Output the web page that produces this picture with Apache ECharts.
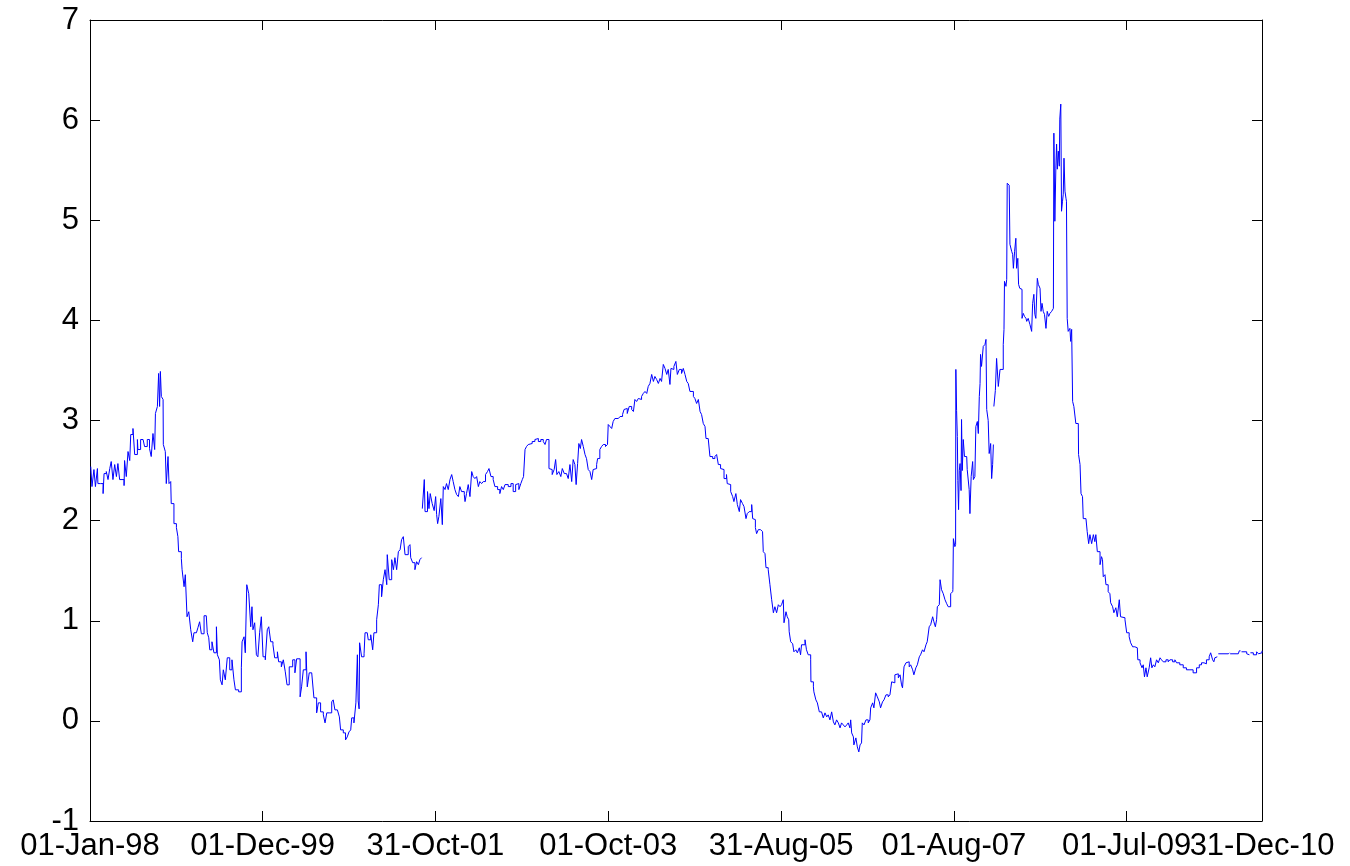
<!DOCTYPE html>
<html>
<head>
<meta charset="utf-8">
<script src="https://cdn.jsdelivr.net/npm/echarts@6/dist/echarts.min.js"></script>
<style>html,body{margin:0;padding:0;background:#fff}#c{width:1350px;height:866px}</style>
</head>
<body>
<div id="c"></div>
<script>
// x: days since 01-Jan-1998, null value = gap in data
var tickDays = [0, 699, 1399, 2099, 2799, 3499, 4199, 4747];
var tickLabels = ['01-Jan-98','01-Dec-99','31-Oct-01','01-Oct-03','31-Aug-05','01-Aug-07','01-Jul-09','31-Dec-10'];
var yTicks = [-1, 0, 1, 2, 3, 4, 5, 6, 7];

var days = [
3,8,16,22,30,32,43,53,57,66,73,80,86,93,100,107,113,120,127,138,140,147,154,161,165,174,181,192,194,205,215,221,232,241,248,255,262,265,273,278,282,285,289,296,297,305,309,316,320,327,329,336,340,345,350,356,359,370,373,381,386,393,400,408,416,421,431,437,444,451,462,471,475,481,485,494,502,512,516,524,528,535,540,548,556,566,575,583,589,602,613,616,624,629,635,643,651,656,660,667,674,680,687,694,701,710,718,724,732,741,748,759,764,775,783,791,798,
807,821,830,837,851,857,864,875,880,888,898,905,907,918,925,934,945,952,959,969,979,985,992,1002,1010,1015,1026,1035,1042,1049,1056,1060,1069,1077,1083,1086,1090,1092,1100,1110,1114,1123,1127,1137,1145,1150,1161,1168,1172,1181,1188,1195,1202,1204,1212,1222,1229,1235,1242,1249,1256,1262,1269,1276,1283,1289,1296,1299,1307,1316,1323,1330,1336,1343,1344,
1346,1354,1357,1367,1373,1378,1386,1394,1400,1404,1408,1413,1421,1427,1431,1438,1444,1451,1458,1465,1471,1478,1485,1492,1498,1505,1516,1519,1525,1532,1539,1546,1552,1559,1566,1573,1579,1586,1593,1602,1610,1616,1624,1633,1640,1651,1660,1667,1674,1681,1694,1705,1714,1724,1732,1737,1745,1751,1756,1762,1768,1775,1782,1791,1802,1809,1816,1826,1836,1843,1849,1856,1859,1867,1872,1880,1886,1891,1899,1907,1913,1921,1930,1937,1944,1951,1957,1964,1969,1975,1980,1986,1991,1998,2005,2011,2018,2025,2032,2038,2045,2052,2056,2065,2072,2079,2088,2096,2099,2106,2113,2119,
2126,2140,2147,2157,2163,2171,2176,2184,2194,2201,2207,2214,2221,2228,2234,2241,2248,2255,2261,2268,2275,2282,2288,2295,2302,2309,2315,2322,2329,2336,2342,2349,2353,2360,2365,2373,2379,2387,2396,2403,2410,2417,2423,2430,2437,2444,2450,2457,2464,2471,2477,2484,2491,2495,2504,2511,2522,2531,2538,2545,2554,2562,2568,2578,2581,2589,2595,2603,2608,2616,2622,2630,2635,2643,2649,2657,2662,2670,2680,2684,2689,2695,2700,2707,2716,2724,2727,2734,2738,2747,2754,2761,2768,2774,2781,2788,2795,2801,2808,2811,2819,2824,2830,2832,2838,2846,2851,
2859,2865,2873,2878,2882,2889,2896,2902,2909,2919,2920,2930,2932,2940,2946,2954,2963,2970,2977,2984,2990,2997,3004,3011,3017,3024,3031,3038,3044,3051,3058,3065,3071,3078,3081,3085,3092,3094,3102,3108,3114,3119,3125,3128,3135,3143,3152,3159,3162,3170,3175,3182,3189,3197,3202,3210,3216,3224,3233,3240,3247,3254,3260,3267,3274,3281,3287,3291,3297,3305,3310,3318,3324,3332,3337,3345,3351,3359,3364,3372,3378,3386,3391,3399,3405,3413,3418,3424,3429,3432,3440,3443,3449,3456,3463,3470,3476,3483,3486,3494,
3495,3497,3503,3506,3507,3510,3513,3515,3518,3521,3524,3528,3530,3533,3537,3542,3551,3553,3561,3564,3569,3575,3578,3584,3588,3594,3598,3602,3605,3607,3611,3618,3625,3629,3632,3638,3642,3648,3652,3656,3659,3660,3661,3667,3672,3679,3686,3692,3699,3702,3704,3710,3713,3715,3723,3726,3733,3737,3740,3745,3750,3753,3758,3761,3766,3772,3775,3780,3785,3791,3794,3800,3807,3814,3818,3823,3827,3831,3837,3841,3848,3852,3856,3861,3866,3872,3877,3883,3888,3895,3902,3904,3908,3912,3915,3918,3922,3926,3928,3932,3935,3939,3942,3945,3949,3953,3955,3958,3962,3969,3972,3976,3980,3985,3993,4003,4004,4010,4014,4020,4023,4034,4039,4045,4050,4057,4064,4070,4074,4080,
4088,4091,4097,4101,4104,4111,4115,4124,4131,4134,4142,4147,4155,4161,4169,4174,4182,4192,4199,4209,4215,4223,4232,4242,4244,4253,4261,4266,4271,4277,4282,4286,4290,4296,4301,4307,4313,4320,4327,4334,4340,4347,4358,4367,4374,4385,4394,4401,4414,4428,4441,4455,4468,4482,4493,4502,4512,4522,4533,4539,4547,4552,4556,4563,4566,4570,4611,4615,4616,4618,4651,4655,4660,4664,4685,4692,4696,4700,4712,4725,4733,4740,4747
];

var values = [
2.54,2.34,2.51,2.34,2.52,2.37,2.37,2.27,2.47,2.49,2.41,2.52,2.59,2.41,2.56,2.44,2.57,2.41,2.41,2.35,2.6,2.44,2.69,2.6,2.86,2.92,2.66,2.81,2.71,2.81,2.82,2.74,2.81,2.72,2.64,2.87,2.71,3.07,3.14,3.47,3.14,3.49,3.24,3.21,2.76,2.69,2.37,2.64,2.37,2.39,2.17,2.17,1.97,1.97,1.93,1.84,1.69,1.62,1.51,1.34,1.46,1.04,1.09,0.91,0.79,0.88,0.89,0.93,0.99,0.87,1.05,1.04,0.88,0.83,0.71,0.79,0.68,0.94,0.66,0.61,0.41,0.36,0.51,0.41,0.63,0.51,0.61,0.41,0.31,0.29,0.53,0.79,0.84,0.68,1.36,1.27,0.94,1.14,0.91,0.98,0.66,0.64,0.88,1.04,0.64,0.61,0.91,0.94,0.79,0.76,0.63,0.69,0.59,0.54,0.61,0.49,0.36,
0.54,0.61,0.48,0.62,0.24,0.34,0.51,0.69,0.34,0.48,0.49,0.48,0.23,0.08,0.18,0.09,0.06,-0.02,0.08,0.08,0.19,0.21,0.11,0.12,0.04,-0.09,-0.12,-0.19,-0.16,-0.11,-0.09,0.03,-0.02,0.18,0.66,0.2,0.12,0.78,0.64,0.67,0.88,0.89,0.81,0.86,0.71,0.88,1.01,1.16,1.36,1.24,1.41,1.51,1.36,1.66,1.41,1.61,1.51,1.63,1.51,1.69,1.71,1.81,1.84,1.66,1.66,1.74,1.76,1.63,1.58,1.51,1.59,1.56,1.61,1.63,null,
2.12,2.41,2.09,2.29,2.12,2.27,2.17,2.1,2.24,2.06,1.97,2.04,2.22,1.96,2.34,2.31,2.37,2.31,2.41,2.46,2.39,2.31,2.26,2.24,2.34,2.29,2.26,2.19,2.27,2.36,2.24,2.49,2.44,2.42,2.44,2.34,2.39,2.37,2.39,2.46,2.49,2.52,2.44,2.41,2.34,2.31,2.27,2.34,2.31,2.36,2.34,2.37,2.29,2.36,2.37,2.31,2.37,2.41,2.44,2.71,2.74,2.76,2.77,2.79,2.81,2.82,2.79,2.81,2.79,2.76,2.81,2.81,2.52,2.51,2.46,2.51,2.61,2.46,2.49,2.44,2.52,2.47,2.46,2.42,2.56,2.39,2.61,2.56,2.36,2.57,2.77,2.72,2.81,2.74,2.66,2.62,2.51,2.49,2.41,2.51,2.52,2.56,2.62,2.71,2.74,2.76,2.74,2.76,2.96,2.94,2.92,2.99,
3.02,3.01,3.04,3.06,3.11,3.12,3.07,3.14,3.11,3.09,3.21,3.19,3.22,3.21,3.24,3.27,3.29,3.27,3.34,3.37,3.46,3.39,3.44,3.41,3.37,3.42,3.39,3.56,3.52,3.46,3.51,3.36,3.52,3.51,3.54,3.59,3.46,3.51,3.47,3.52,3.46,3.39,3.37,3.29,3.29,3.24,3.22,3.17,3.21,3.09,3.06,2.97,2.94,2.82,2.81,2.64,2.62,2.64,2.66,2.56,2.52,2.51,2.42,2.46,2.37,2.36,2.29,2.24,2.19,2.27,2.16,2.09,2.21,2.17,2.14,2.02,2.07,2.09,2.16,2.02,2.01,1.93,1.87,1.91,1.91,1.89,1.69,1.67,1.53,1.51,1.36,1.21,1.08,1.14,1.08,1.16,1.14,1.16,1.21,0.98,1.09,1.04,1.01,0.89,0.79,0.77,0.69,
0.71,0.68,0.73,0.66,0.76,0.76,0.81,0.71,0.66,0.61,0.39,0.34,0.29,0.21,0.18,0.09,0.08,0.03,0.08,0.04,0.06,0.01,0.09,-0.01,-0.04,0.01,-0.02,-0.07,-0.02,-0.04,-0.06,-0.04,-0.02,-0.07,0.01,-0.12,-0.16,-0.24,-0.17,-0.26,-0.31,-0.24,-0.22,-0.02,-0.04,0.01,-0.02,0.01,0.13,0.18,0.13,0.28,0.24,0.19,0.13,0.19,0.21,0.26,0.24,0.26,0.39,0.38,0.46,0.47,0.43,0.46,0.36,0.33,0.54,0.58,0.59,0.54,0.56,0.51,0.46,0.53,0.56,0.64,0.66,0.71,0.69,0.76,0.79,0.94,0.96,1.04,0.99,0.94,1.01,1.14,1.16,1.41,1.31,1.27,1.21,1.17,1.14,1.14,1.27,1.29,
1.31,1.82,1.74,1.76,3.51,3.1,2.84,2.4,2.11,2.5,2.57,2.3,3.01,2.5,2.81,2.64,2.64,2.51,2.31,2.07,2.44,2.59,2.41,2.44,2.94,2.99,2.87,3.24,3.37,3.66,3.54,3.74,3.76,3.81,3.11,3.0,2.67,2.77,2.42,2.56,2.76,null,3.14,3.3,3.62,3.34,3.51,3.51,3.76,3.91,4.39,4.34,4.41,5.37,5.35,4.76,4.69,4.66,4.52,4.69,4.82,4.52,4.62,4.36,4.32,4.31,4.02,4.07,4.04,4.02,3.99,4.02,3.96,3.89,4.17,4.26,4.06,4.02,4.42,4.36,4.32,4.09,4.17,4.09,4.06,3.92,4.09,4.04,4.07,4.09,4.12,5.87,4.99,5.52,5.76,5.51,5.69,5.54,6.01,6.16,5.09,5.19,5.26,5.62,5.29,5.22,5.19,4.02,3.89,3.92,3.79,3.91,3.19,3.14,2.97,2.97,2.66,2.56,2.27,2.24,2.02,2.02,1.89,1.77,1.86,1.77,1.86,1.79,1.86,1.69,
1.69,1.56,1.64,1.61,1.44,1.46,1.36,1.29,1.27,1.18,1.14,1.08,1.13,1.04,1.21,1.04,1.03,1.01,0.88,0.84,0.78,0.74,0.73,0.73,0.61,0.58,0.53,0.56,0.44,0.53,0.44,0.43,0.53,0.63,0.53,0.56,0.54,0.61,0.58,0.63,0.61,0.59,0.61,0.59,0.61,0.59,0.61,0.58,0.56,0.53,0.51,0.51,0.48,0.53,0.56,0.58,0.57,0.61,0.64,0.68,0.61,0.59,0.63,0.64,null,0.67,0.67,0.68,null,0.67,0.68,0.7,null,0.69,0.67,0.66,null,0.68,0.66,0.69,0.67,0.68,0.7
];

var seriesData = days.map(function (d, i) { return [d, values[i]]; });

var FONT = 'Liberation Sans, Arial, sans-serif';
var chart = echarts.init(document.getElementById('c'), null, { renderer: 'canvas' });
var axisLineStyle = { color: '#000', width: 1 };
var tickStyle = { color: '#000', width: 1 };
var labelFmt = function (v) { var i = tickDays.indexOf(v); return i >= 0 ? tickLabels[i] : ''; };
var lastDay = tickDays[tickDays.length - 1];

chart.setOption({
  animation: false,
  backgroundColor: '#fff',
  grid: { left: 90, right: 88, top: 20, bottom: 45, containLabel: false },
  xAxis: [{
    type: 'value', min: 0, max: lastDay, position: 'bottom',
    axisLine: { show: true, onZero: false, lineStyle: axisLineStyle },
    axisTick: { show: true, inside: true, length: 10, lineStyle: tickStyle, customValues: tickDays },
    axisLabel: {
      show: true, margin: 10, fontSize: 31, fontFamily: FONT, color: '#000',
      customValues: tickDays.slice(0, tickDays.length - 1), hideOverlap: false,
      formatter: labelFmt
    },
    splitLine: { show: false }
  }, {
    type: 'value', min: 0, max: lastDay, position: 'top',
    axisLine: { show: true, onZero: false, lineStyle: axisLineStyle },
    axisTick: { show: true, inside: true, length: 10, lineStyle: tickStyle, customValues: tickDays },
    axisLabel: { show: false },
    splitLine: { show: false }
  }, {
    type: 'value', min: 0, max: lastDay, position: 'bottom',
    axisLine: { show: false, onZero: false },
    axisTick: { show: false },
    axisLabel: {
      show: true, margin: 10, fontSize: 31, fontFamily: FONT, color: '#000',
      customValues: [lastDay], hideOverlap: false, showMaxLabel: true,
      formatter: labelFmt
    },
    splitLine: { show: false }
  }],
  yAxis: [{
    type: 'value', min: -1, max: 7, interval: 1, position: 'left',
    axisLine: { show: true, onZero: false, lineStyle: axisLineStyle },
    axisTick: { show: true, inside: true, length: 10, lineStyle: tickStyle },
    axisLabel: { show: true, margin: 11, fontSize: 31, fontFamily: FONT, color: '#000',
      showMinLabel: true, showMaxLabel: true,
      customValues: yTicks, formatter: function (v) { return String(v); } },
    splitLine: { show: false }
  }, {
    type: 'value', min: -1, max: 7, interval: 1, position: 'right',
    axisLine: { show: true, onZero: false, lineStyle: axisLineStyle },
    axisTick: { show: true, inside: true, length: 10, lineStyle: tickStyle },
    axisLabel: { show: false },
    splitLine: { show: false }
  }],
  series: [{
    type: 'line',
    xAxisIndex: 0, yAxisIndex: 0,
    data: seriesData,
    step: 'end',
    showSymbol: false,
    connectNulls: false,
    lineStyle: { color: '#0000ff', width: 1 },
    itemStyle: { color: '#0000ff' },
    emphasis: { disabled: true }
  }]
});
</script>
</body>
</html>
